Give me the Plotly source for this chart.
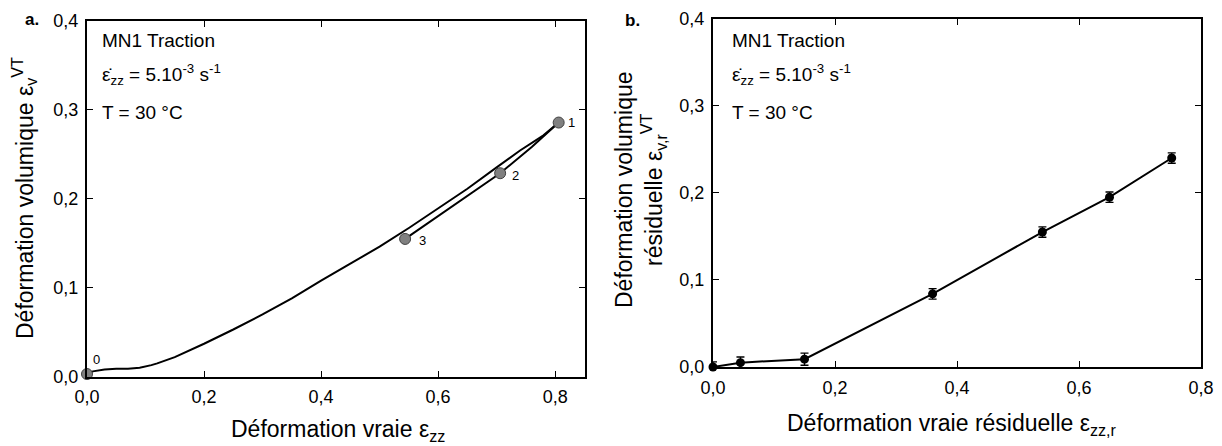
import plotly.graph_objects as go

# ---------------- data (panel a) ----------------
load_x = [0.0, 0.01, 0.03, 0.05, 0.07, 0.09, 0.11, 0.12, 0.15, 0.20, 0.25, 0.30, 0.35,
          0.40, 0.45, 0.50, 0.55, 0.60, 0.65, 0.70, 0.74, 0.78, 0.806]
load_y = [0.003, 0.006, 0.008, 0.009, 0.009, 0.010, 0.013, 0.015, 0.022, 0.037, 0.053,
          0.070, 0.088, 0.108, 0.127, 0.146, 0.167, 0.189, 0.211, 0.235, 0.254, 0.271, 0.2854]
unload_x = [0.806, 0.76, 0.706, 0.65, 0.60, 0.56, 0.5436]
unload_y = [0.2854, 0.258, 0.2285, 0.203, 0.181, 0.163, 0.1547]
pt_x = [0.0, 0.806, 0.706, 0.5436]
pt_y = [0.003, 0.2854, 0.2285, 0.1547]
pt_labels = ["0", "1", "2", "3"]

# ---------------- data (panel b) ----------------
res_x = [0.0, 0.045, 0.15, 0.36, 0.54, 0.65, 0.752]
res_y = [0.0, 0.005, 0.009, 0.084, 0.155, 0.195, 0.240]
res_err = [0.006, 0.0065, 0.007, 0.006, 0.006, 0.006, 0.006]

W, H = 1222, 446
FONT = "Liberation Sans, Arial, sans-serif"


def px(x):
    return x / W


def py(y):
    return 1 - y / H


fig = go.Figure()

fig.add_trace(go.Scatter(x=load_x, y=load_y, mode="lines",
                         line=dict(color="black", width=2), xaxis="x", yaxis="y",
                         showlegend=False))
fig.add_trace(go.Scatter(x=unload_x, y=unload_y, mode="lines",
                         line=dict(color="black", width=2), xaxis="x", yaxis="y",
                         showlegend=False))
fig.add_trace(go.Scatter(x=pt_x, y=pt_y, mode="markers",
                         marker=dict(color="#808080", size=11,
                                     line=dict(color="#404040", width=1)),
                         xaxis="x", yaxis="y", showlegend=False, cliponaxis=False))

fig.add_trace(go.Scatter(x=res_x, y=res_y, mode="lines+markers",
                         line=dict(color="black", width=2),
                         marker=dict(color="black", size=9),
                         error_y=dict(type="data", array=res_err, visible=True,
                                      color="black", thickness=1.3, width=4),
                         xaxis="x2", yaxis="y2", showlegend=False, cliponaxis=False))

axis_common = dict(showline=True, linewidth=2, linecolor="black", mirror="ticks",
                   ticks="inside", ticklen=6, tickwidth=1.3, tickcolor="black",
                   showgrid=False, zeroline=False, tickformat=".1f",
                   ticklabelstandoff=3, automargin=False,
                   tickfont=dict(family=FONT, size=18, color="black"))

fig.update_layout(
    width=W, height=H, autosize=False,
    margin=dict(l=0, r=0, t=0, b=0, pad=0, autoexpand=False),
    paper_bgcolor="white", plot_bgcolor="white",
    separators=", ",
    font=dict(family=FONT, color="black"),
    xaxis=dict(domain=[px(87), px(585)], range=[0, 0.851], tickvals=[0, 0.2, 0.4, 0.6, 0.8],
               anchor="y", **axis_common),
    yaxis=dict(domain=[py(376.7), py(20.5)], range=[0, 0.4], tickvals=[0, 0.1, 0.2, 0.3, 0.4],
               anchor="x", **axis_common),
    xaxis2=dict(domain=[px(713), px(1201)], range=[0, 0.8], tickvals=[0, 0.2, 0.4, 0.6, 0.8],
                anchor="y2", **axis_common),
    yaxis2=dict(domain=[py(367), py(18.7)], range=[0, 0.4], tickvals=[0, 0.1, 0.2, 0.3, 0.4],
                anchor="x2", **axis_common),
)

ann = []
# point labels in panel a
shifts = [(9, 15), (13, 0), (15, -2), (17, -2)]
for (x, y, t, (dx, dy)) in zip(pt_x, pt_y, pt_labels, shifts):
    ann.append(dict(x=x, y=y, xref="x", yref="y", text=t, showarrow=False,
                    xanchor="center", yanchor="middle",
                    xshift=dx, yshift=dy, font=dict(size=13, family=FONT)))

# info text blocks
for x0 in (100, 730):
    for yy, txt in ((40, "MN1 Traction"),
                    (74, "ε̇<sub>zz</sub> = 5.10<sup>-3</sup> s<sup>-1</sup>"),
                    (112, "T = 30 °C")):
        ann.append(dict(x=px(x0), y=py(yy), xref="paper", yref="paper", xanchor="left",
                        yanchor="middle", text=txt, showarrow=False,
                        font=dict(size=19, family=FONT)))

# panel letters
ann.append(dict(x=px(32), y=py(19), xref="paper", yref="paper", text="<b>a.</b>",
                xanchor="center", yanchor="middle",
                showarrow=False, font=dict(size=17, family=FONT)))
ann.append(dict(x=px(632), y=py(20), xref="paper", yref="paper", text="<b>b.</b>",
                xanchor="center", yanchor="middle",
                showarrow=False, font=dict(size=17, family=FONT)))

# axis titles
ann.append(dict(x=px(338), y=py(430), xref="paper", yref="paper",
                xanchor="center", yanchor="middle",
                text="Déformation vraie ε<sub>zz</sub>", showarrow=False,
                font=dict(size=23, family=FONT)))
ann.append(dict(x=px(24), y=py(198), xref="paper", yref="paper", textangle=-90,
                xanchor="center", yanchor="middle",
                text="Déformation volumique ε<sub>v</sub><sup>VT</sup>", showarrow=False,
                font=dict(size=23, family=FONT)))
ann.append(dict(x=px(952), y=py(424), xref="paper", yref="paper",
                xanchor="center", yanchor="middle",
                text="Déformation vraie résiduelle ε<sub>zz,r</sub>", showarrow=False,
                font=dict(size=23, family=FONT)))
ann.append(dict(x=px(640), y=py(190), xref="paper", yref="paper", textangle=-90,
                xanchor="center", yanchor="middle",
                text="Déformation volumique<br>résiduelle ε<sub>v,r</sub><sup>VT</sup>",
                showarrow=False, font=dict(size=23, family=FONT)))

fig.update_layout(annotations=ann)

fig.write_html("out.html", config={"responsive": False, "displayModeBar": False},
               post_script="document.body.style.margin='0';document.body.style.overflow='hidden';")
